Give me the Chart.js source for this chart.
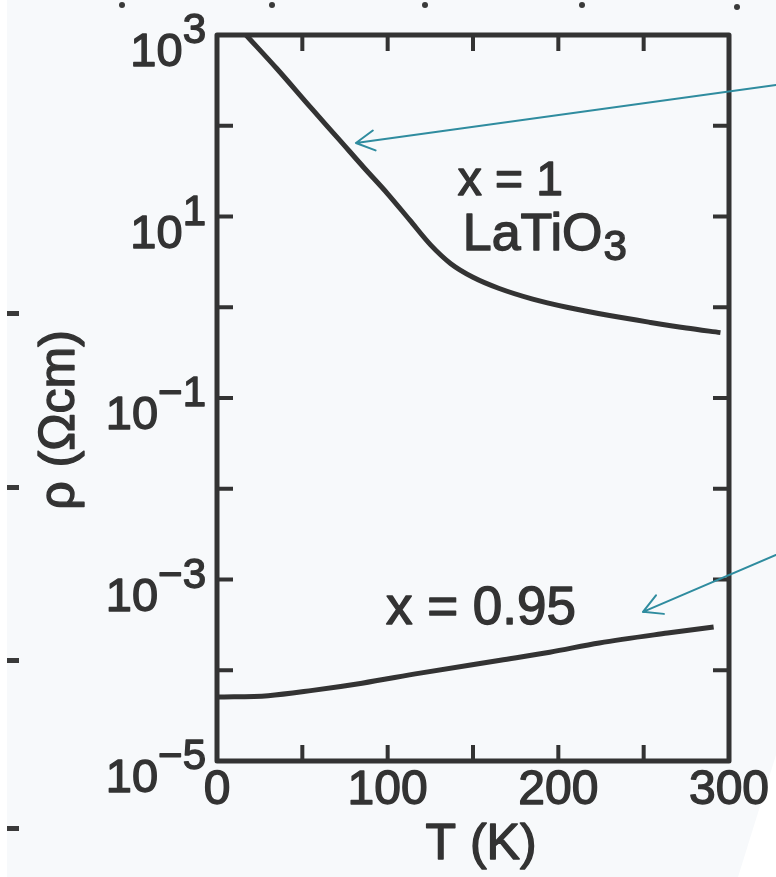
<!DOCTYPE html>
<html>
<head>
<meta charset="utf-8">
<script src="https://cdn.jsdelivr.net/npm/chart.js@4"></script>
<style>
  html, body { margin: 0; padding: 0; background: #fff; }
  canvas { display: block; }
</style>
</head>
<body>
<canvas id="rhoChart" width="776" height="877"></canvas>
<script>
// x = 1 (LaTiO3)
const tempX1 = [17, 35, 55, 72, 86, 100, 113, 125, 137, 150, 165, 185, 205, 230, 254, 275, 295];
const rhoX1 = [1000, 427, 158, 69, 34.7, 17.8, 9.1, 4.9, 3.02, 2.14, 1.62, 1.23, 1.0, 0.81, 0.68, 0.59, 0.525];
// x = 0.95
const tempX095 = [0, 30, 56, 85, 119, 166, 195, 224, 264, 291];
const rhoX095 = [5.07e-5, 5.25e-5, 6.0e-5, 7.2e-5, 9.3e-5, 1.29e-4, 1.58e-4, 2.0e-4, 2.57e-4, 3.0e-4];
// ticks
const xTicks = [0, 50, 100, 150, 200, 250, 300];
const xLabels = [0, 100, 200, 300];
const yExponents = [-5, -4, -3, -2, -1, 0, 1, 2, 3];
const yLabelExponents = [3, 1, -1, -3, -5];

const FONT = "'Liberation Sans', Arial, sans-serif";
const INK = '#333';
const TEAL = '#2f8c9f';

// text notes and arrows, anchored in data space (T, rho)
const notes = [
    { text: 'x = 1', size: 48, t: 141, rho: 17.3 },
    { text: 'LaTiO', sub: '3', size: 52, t: 144, rho: 4.3 },
    { text: 'x = 0.95', size: 53, t: 99, rho: 3.2e-4 }
];
const arrows = [
    { from: [327.5, 282], to: [81.4, 64.6] },
    { from: [327.5, 1.86e-3], to: [249.6, 4.4e-4] }
];

function toPoints(xs, ys) {
    return xs.map((x, i) => ({ x: x, y: ys[i] }));
}

// scanned text looks heavier: fill plus a thin stroke
function inkText(ctx, s, x, y) {
    ctx.fillText(s, x, y);
    ctx.strokeText(s, x, y);
}

const scanFrame = {
    id: 'scanFrame',
    beforeDraw(chart) {
        const ctx = chart.ctx;
        ctx.save();
        ctx.fillStyle = '#f7f9fb';
        ctx.beginPath();
        ctx.moveTo(7, 0);
        ctx.lineTo(776, 0);
        ctx.lineTo(776, 755);
        ctx.lineTo(738, 877);
        ctx.lineTo(7, 877);
        ctx.closePath();
        ctx.fill();
        // specks from the neighbouring figure
        ctx.fillStyle = '#3a3a3a';
        [[122, 5], [272, 5], [425, 5], [582, 5], [737, 7]].forEach(p => {
            ctx.beginPath();
            ctx.arc(p[0], p[1], 3, 0, Math.PI * 2);
            ctx.fill();
        });
        [313, 487, 660, 828].forEach(y => {
            ctx.fillRect(7, y - 2, 12, 5);
        });
        ctx.restore();
    },
    afterDraw(chart) {
        const ctx = chart.ctx;
        const a = chart.chartArea;
        const xs = chart.scales.x;
        const ys = chart.scales.y;
        ctx.save();

        // frame
        ctx.strokeStyle = INK;
        ctx.lineWidth = 5;
        ctx.lineJoin = 'round';
        ctx.strokeRect(a.left, a.top, a.right - a.left, a.bottom - a.top);

        // inward ticks
        ctx.lineWidth = 4;
        const tl = 16;
        ctx.beginPath();
        xTicks.forEach(v => {
            if (v === xs.min || v === xs.max) return;
            const px = xs.getPixelForValue(v);
            ctx.moveTo(px, a.bottom); ctx.lineTo(px, a.bottom - tl);
            ctx.moveTo(px, a.top); ctx.lineTo(px, a.top + tl);
        });
        yExponents.forEach(e => {
            if (e === -5 || e === 3) return;
            const py = ys.getPixelForValue(Math.pow(10, e));
            ctx.moveTo(a.left, py); ctx.lineTo(a.left + tl, py);
            ctx.moveTo(a.right, py); ctx.lineTo(a.right - tl, py);
        });
        ctx.stroke();

        // y tick labels with superscript exponent
        ctx.fillStyle = INK;
        ctx.lineWidth = 1.4;
        ctx.lineJoin = 'round';
        ctx.textBaseline = 'alphabetic';
        ctx.textAlign = 'left';
        yLabelExponents.forEach(e => {
            const py = ys.getPixelForValue(Math.pow(10, e));
            const exp = e < 0 ? '\u2212' + Math.abs(e) : String(e);
            ctx.font = '47px ' + FONT;
            const wBase = ctx.measureText('10').width;
            ctx.font = '42px ' + FONT;
            const wExp = ctx.measureText(exp).width;
            const right = a.left - 11;
            const x0 = right - wBase - wExp;
            ctx.font = '47px ' + FONT;
            inkText(ctx, '10', x0, py + 31);
            ctx.font = '42px ' + FONT;
            inkText(ctx, exp, x0 + wBase, py + 8);
        });

        // x tick labels
        ctx.font = '48px ' + FONT;
        ctx.textAlign = 'center';
        xLabels.forEach(v => {
            inkText(ctx, String(v), xs.getPixelForValue(v), a.bottom + 43);
        });

        // axis titles
        ctx.font = '50px ' + FONT;
        ctx.textBaseline = 'middle';
        inkText(ctx, 'T (K)', (a.left + a.right) / 2 + 8, 845);
        ctx.save();
        ctx.translate(60, 420);
        ctx.rotate(-Math.PI / 2);
        inkText(ctx, '\u03C1 (\u03A9cm)', 0, 0);
        ctx.restore();

        // curve labels
        ctx.textAlign = 'left';
        ctx.textBaseline = 'alphabetic';
        notes.forEach(n => {
            const px = xs.getPixelForValue(n.t);
            const py = ys.getPixelForValue(n.rho);
            ctx.font = n.size + 'px ' + FONT;
            inkText(ctx, n.text, px, py);
            if (n.sub) {
                const w = ctx.measureText(n.text).width;
                ctx.font = Math.round(n.size * 0.8) + 'px ' + FONT;
                inkText(ctx, n.sub, px + w + 1, py + 10);
            }
        });

        // teal arrows
        ctx.strokeStyle = TEAL;
        ctx.lineWidth = 2;
        ctx.lineCap = 'round';
        arrows.forEach(ar => {
            const x1 = xs.getPixelForValue(ar.from[0]);
            const y1 = ys.getPixelForValue(ar.from[1]);
            const x2 = xs.getPixelForValue(ar.to[0]);
            const y2 = ys.getPixelForValue(ar.to[1]);
            const ang = Math.atan2(y1 - y2, x1 - x2);
            const head = 21;
            ctx.beginPath();
            ctx.moveTo(x1, y1);
            ctx.lineTo(x2, y2);
            ctx.moveTo(x2 + head * Math.cos(ang - 0.5), y2 + head * Math.sin(ang - 0.5));
            ctx.lineTo(x2, y2);
            ctx.lineTo(x2 + head * Math.cos(ang + 0.5), y2 + head * Math.sin(ang + 0.5));
            ctx.stroke();
        });
        ctx.restore();
    }
};

const ctx = document.getElementById('rhoChart').getContext('2d');
new Chart(ctx, {
    type: 'line',
    data: {
        datasets: [
            {
                label: 'x = 1',
                data: toPoints(tempX1, rhoX1),
                borderColor: INK,
                borderWidth: 5,
                pointRadius: 0,
                cubicInterpolationMode: 'monotone'
            },
            {
                label: 'x = 0.95',
                data: toPoints(tempX095, rhoX095),
                borderColor: INK,
                borderWidth: 5,
                pointRadius: 0,
                cubicInterpolationMode: 'monotone'
            }
        ]
    },
    options: {
        responsive: false,
        animation: false,
        devicePixelRatio: 1,
        layout: { padding: { left: 0, right: 47, top: 35, bottom: 0 } },
        plugins: {
            legend: { display: false },
            tooltip: { enabled: false }
        },
        scales: {
            x: {
                type: 'linear',
                min: 0,
                max: 300,
                afterBuildTicks: s => { s.ticks = xTicks.map(v => ({ value: v })); },
                afterFit: s => { s.height = 116; },
                grid: { display: false },
                border: { display: false },
                ticks: { display: false }
            },
            y: {
                type: 'logarithmic',
                min: 1e-5,
                max: 1e3,
                afterBuildTicks: s => { s.ticks = yExponents.map(e => ({ value: Math.pow(10, e) })); },
                afterFit: s => { s.width = 217; },
                grid: { display: false },
                border: { display: false },
                ticks: { display: false }
            }
        }
    },
    plugins: [scanFrame]
});
</script>
</body>
</html>
